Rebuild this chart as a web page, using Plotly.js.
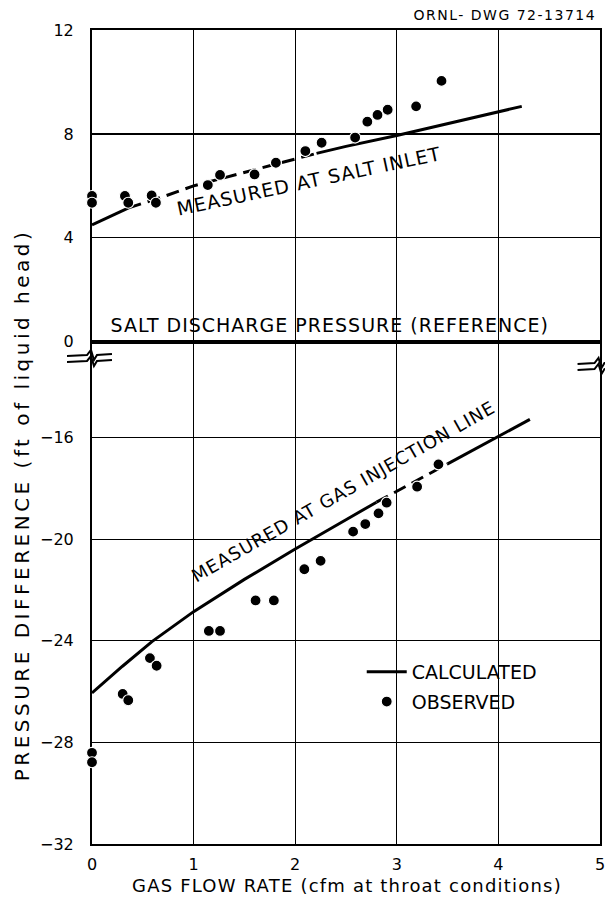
<!DOCTYPE html>
<html>
<head>
<meta charset="utf-8">
<script src="https://cdn.plot.ly/plotly-3.0.1.min.js"></script>
<style>
html,body{margin:0;padding:0;background:#fff;}
#chart{width:605px;height:897px;}
#chart .annotation[data-index="0"] text{letter-spacing:1.5px;}
#chart .annotation[data-index="1"] text{letter-spacing:1px;}
#chart .annotation[data-index="2"] text{letter-spacing:1px;}
#chart .annotation[data-index="3"] text{letter-spacing:1px;}
#chart .annotation[data-index="4"] text{letter-spacing:3.5px;}
#chart .annotation[data-index="5"] text{letter-spacing:1.2px;}
</style>
</head>
<body>
<div id="chart"></div>
<script>
// ---- data ----
const xTicks = [0, 1, 2, 3, 4, 5];
const yTicksUpper = [0, 4, 8, 12];
const yTicksLower = [-32, -28, -24, -20, -16];

// observed, measured at salt inlet (upper panel)
const xObsUpper = [0, 0, 0.324, 0.357, 0.587, 0.629, 1.14, 1.26, 1.60, 1.81, 2.10, 2.26, 2.59, 2.71, 2.81, 2.91, 3.19, 3.44];
const yObsUpper = [5.61, 5.35, 5.61, 5.35, 5.63, 5.35, 6.03, 6.42, 6.44, 6.89, 7.34, 7.66, 7.86, 8.47, 8.73, 8.93, 9.06, 10.04];

// observed, measured at gas injection line (lower panel)
const xObsLower = [0, 0, 0.302, 0.357, 0.570, 0.636, 1.15, 1.26, 1.61, 1.79, 2.09, 2.25, 2.57, 2.69, 2.82, 2.90, 3.20, 3.41];
const yObsLower = [-28.41, -28.78, -26.09, -26.34, -24.68, -24.98, -23.61, -23.61, -22.41, -22.41, -21.18, -20.85, -19.70, -19.40, -18.98, -18.56, -17.93, -17.05];

// calculated curves
const xCalcUpper = [0, 0.36, 0.72, 1.0, 1.5, 2.0, 2.21, 2.5, 3.0, 3.5, 4.0, 4.23];
const yCalcUpper = [4.50, 5.15, 5.61, 6.0, 6.52, 7.03, 7.25, 7.52, 7.94, 8.40, 8.86, 9.06];
const xCalcLower = [0, 0.3, 0.59, 1.0, 1.5, 2.0, 2.5, 2.8, 3.0, 3.2, 3.5, 4.0, 4.31];
const yCalcLower = [-26.05, -25.0, -24.03, -22.85, -21.58, -20.38, -19.23, -18.54, -18.11, -17.67, -17.03, -15.95, -15.28];

// ---- layout geometry (pixels) ----
const W = 605, H = 897;
const L = 92, R = 4.5, T = 30, B = 53;
const PW = W - L - R, PH = H - T - B;
const px = x => (x - L) / PW;
const py = y => (H - B - y) / PH;
const splitY = 341.7;             // pixel row of the 0 reference line
const split = py(splitY);

const FONT = 'DejaVu Sans, Liberation Sans, sans-serif';
const seg = (a, i, j) => a.slice(i, j + 1);

const lineSolid = {color: 'black', width: 3};
const lineDash = {color: 'black', width: 3, dash: '13px,7px'};

const traces = [
  {x: seg(xCalcUpper, 0, 1), y: seg(yCalcUpper, 0, 1), mode: 'lines', line: lineSolid, yaxis: 'y', name: 'CALCULATED', legendgroup: 'calc', showlegend: true},
  {x: seg(xCalcUpper, 1, 6), y: seg(yCalcUpper, 1, 6), mode: 'lines', line: lineDash, yaxis: 'y', legendgroup: 'calc', showlegend: false},
  {x: seg(xCalcUpper, 6, 11), y: seg(yCalcUpper, 6, 11), mode: 'lines', line: lineSolid, yaxis: 'y', legendgroup: 'calc', showlegend: false},
  {x: seg(xCalcLower, 0, 7), y: seg(yCalcLower, 0, 7), mode: 'lines', line: lineSolid, yaxis: 'y2', legendgroup: 'calc', showlegend: false},
  {x: seg(xCalcLower, 7, 10), y: seg(yCalcLower, 7, 10), mode: 'lines', line: lineDash, yaxis: 'y2', legendgroup: 'calc', showlegend: false},
  {x: seg(xCalcLower, 10, 12), y: seg(yCalcLower, 10, 12), mode: 'lines', line: lineSolid, yaxis: 'y2', legendgroup: 'calc', showlegend: false},
  {x: xObsUpper, y: yObsUpper, mode: 'markers', yaxis: 'y', name: 'OBSERVED', legendgroup: 'obs', showlegend: true, cliponaxis: false,
   marker: {color: 'black', size: 11, line: {color: 'white', width: 1.2}}},
  {x: xObsLower, y: yObsLower, mode: 'markers', yaxis: 'y2', legendgroup: 'obs', showlegend: false, cliponaxis: false,
   marker: {color: 'black', size: 11, line: {color: 'white', width: 1.2}}}
];

const axisCommon = {
  showgrid: true, gridcolor: 'black', gridwidth: 1.3,
  showline: true, linecolor: 'black', linewidth: 2,
  zeroline: false, ticks: '', layer: 'below traces', ticklabeloverflow: 'allow',
  tickfont: {family: FONT, size: 16, color: 'black'}, fixedrange: true
};

function brk(cx, cy, x0, x1) {
  // two stacked zigzag strands crossing an axis
  const strand = dy => {
    const pts = [[x0, cy + dy + 1], [cx - 5, cy + dy], [cx - 1, cy + dy - 5], [cx + 2, cy + dy + 5], [cx + 5, cy + dy], [x1, cy + dy - 1]];
    return pts.map((p, i) => (i ? 'L' : 'M') + px(p[0]).toFixed(4) + ',' + py(p[1]).toFixed(4)).join(' ');
  };
  return [strand(-3), strand(3)].map(path => ({type: 'path', xref: 'paper', yref: 'paper', path: path, line: {color: 'black', width: 2}}));
}

const ann = (text, x, y, opts) => Object.assign({
  text: text, xref: 'paper', yref: 'paper', x: px(x), y: py(y), showarrow: false,
  xanchor: 'center', yanchor: 'middle', font: {family: FONT, size: 19, color: 'black'}
}, opts || {});

const layout = {
  width: W, height: H,
  margin: {l: L, r: R, t: T, b: B, pad: 0},
  paper_bgcolor: 'white', plot_bgcolor: 'white',
  font: {family: FONT, color: 'black'},
  showlegend: true,
  legend: {x: px(362), y: py(687), xanchor: 'left', yanchor: 'middle', bgcolor: 'rgba(0,0,0,0)',
           font: {family: FONT, size: 19, color: 'black'}, itemwidth: 40, tracegroupgap: 2},
  xaxis: Object.assign({}, axisCommon, {range: [0, 5], tickvals: xTicks, anchor: 'y2', mirror: 'all', ticklabelstandoff: 5}),
  yaxis: Object.assign({}, axisCommon, {range: [0, 12], tickvals: yTicksUpper, domain: [split, 1], anchor: 'x', mirror: true, ticklabelstandoff: 13}),
  yaxis2: Object.assign({}, axisCommon, {range: [-32, -32 + (-12.22 + 32)], tickvals: yTicksLower, domain: [0, split], anchor: 'x', mirror: true, ticklabelstandoff: 13}),
  shapes: [
    {type: 'line', xref: 'paper', yref: 'y', x0: 0, x1: 1, y0: 0, y1: 0, line: {color: 'black', width: 3}}
  ].concat(brk(92, 358, 67, 112), brk(600, 366, 578, 610)),
  annotations: [
    ann('ORNL- DWG 72-13714', 505, 15, {font: {family: FONT, size: 14, color: 'black'}}),
    ann('MEASURED AT SALT INLET', 309, 181, {textangle: -12}),
    ann('SALT DISCHARGE PRESSURE (REFERENCE)', 330, 325),
    ann('MEASURED AT GAS INJECTION LINE', 343, 491, {textangle: -29.7, font: {family: FONT, size: 18, color: 'black'}}),
    ann('PRESSURE DIFFERENCE (ft of liquid head)', 22, 505, {textangle: -90, font: {family: FONT, size: 20, color: 'black'}}),
    ann('GAS FLOW RATE (cfm at throat conditions)', 347, 885, {font: {family: FONT, size: 18, color: 'black'}})
  ]
};

Plotly.newPlot('chart', traces, layout, {staticPlot: true, displayModeBar: false});
</script>
</body>
</html>
